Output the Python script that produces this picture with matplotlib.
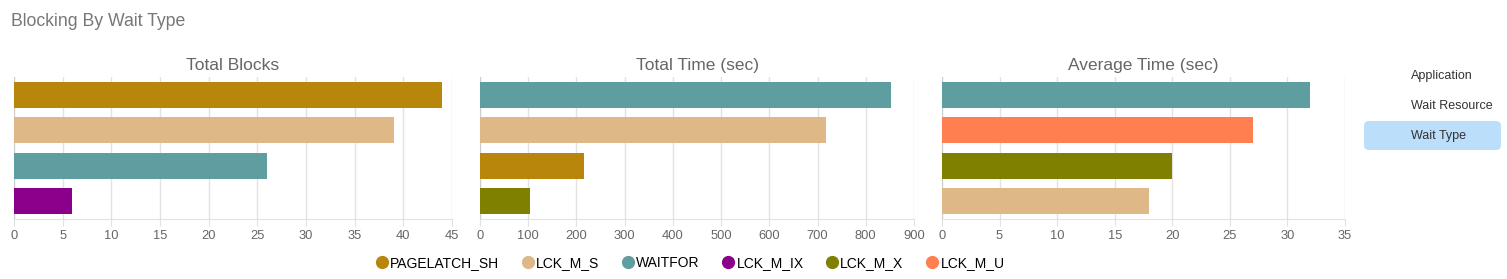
import matplotlib.pyplot as plt
from matplotlib.patches import FancyBboxPatch
from matplotlib.lines import Line2D

plt.rcParams['font.family'] = ['Liberation Sans', 'DejaVu Sans']

# цвета по типу ожидания
wait_colors = {
    'PAGELATCH_SH': '#B8860B',
    'LCK_M_S': '#DEB887',
    'WAITFOR': '#5F9EA0',
    'LCK_M_IX': '#8B008B',
    'LCK_M_X': '#808000',
    'LCK_M_U': '#FF7F50',
}

blocks_types = ['PAGELATCH_SH', 'LCK_M_S', 'WAITFOR', 'LCK_M_IX']
blocks_values = [44, 39, 26, 6]

total_types = ['WAITFOR', 'LCK_M_S', 'PAGELATCH_SH', 'LCK_M_X']
total_values = [852, 717, 215, 103]

avg_types = ['WAITFOR', 'LCK_M_U', 'LCK_M_X', 'LCK_M_S']
avg_values = [32, 27, 20, 18]

panels = [
    ('Total Blocks', blocks_types, blocks_values, 45, 5, (14, 452)),
    ('Total Time (sec)', total_types, total_values, 900, 100, (480, 914)),
    ('Average Time (sec)', avg_types, avg_values, 35, 5, (942, 1345)),
]

W, H = 1507, 279
fig = plt.figure(figsize=(W / 100, H / 100), dpi=100)

# подложка в пиксельных координатах для меню
bg = fig.add_axes([0, 0, 1, 1])
bg.set_xlim(0, W)
bg.set_ylim(H, 0)
bg.axis('off')

top, bottom = 77, 219
for title, types, values, xmax, step, (x0, x1) in panels:
    ax = fig.add_axes([x0 / W, 1 - bottom / H, (x1 - x0) / W, (bottom - top) / H])
    ax.barh(range(len(values)), values, height=0.72,
            color=[wait_colors[t] for t in types], zorder=3)
    ax.set_xlim(0, xmax)
    ax.set_ylim(len(values) - 0.5, -0.5)
    ax.set_xticks(range(0, xmax + 1, step))
    ax.set_yticks([])
    ax.grid(True, axis='x', color='#e2e2e2', linewidth=1, zorder=0)
    for s in ['top', 'right']:
        ax.spines[s].set_visible(False)
    ax.spines['left'].set_color('#cccccc')
    ax.spines['bottom'].set_color('#e2e2e2')
    ax.tick_params(axis='x', colors='#666666', labelsize=9.3, length=5,
                   color='#e2e2e2', pad=3)
    ax.set_title(title, fontsize=12.5, color='#666666', pad=5)

fig.text(11 / W, 1 - 21 / H, 'Blocking By Wait Type', fontsize=12.7,
         color='#777777', va='center', ha='left')

# легенда внизу
handles = [Line2D([0], [0], marker='o', linestyle='', markersize=8.5,
                  markerfacecolor=c, markeredgecolor=c) for c in wait_colors.values()]
fig.legend(handles, list(wait_colors.keys()), loc='center', ncol=6,
           bbox_to_anchor=(689 / W, 1 - 263 / H), frameon=False, fontsize=10,
           handletextpad=0.0, columnspacing=1.45, handlelength=1.2)

# меню справа
menu_items = ['Application', 'Wait Resource', 'Wait Type']
box = FancyBboxPatch((1364, 121), 137, 29,
                     boxstyle='round,pad=0,rounding_size=5',
                     facecolor='#bbdefb', edgecolor='none')
bg.add_patch(box)
for i, item in enumerate(menu_items):
    bg.text(1411, 76 + 30 * i, item, fontsize=9,
            color='#333333', va='center', ha='left')

plt.savefig('out.png', dpi=100)
plt.close()
